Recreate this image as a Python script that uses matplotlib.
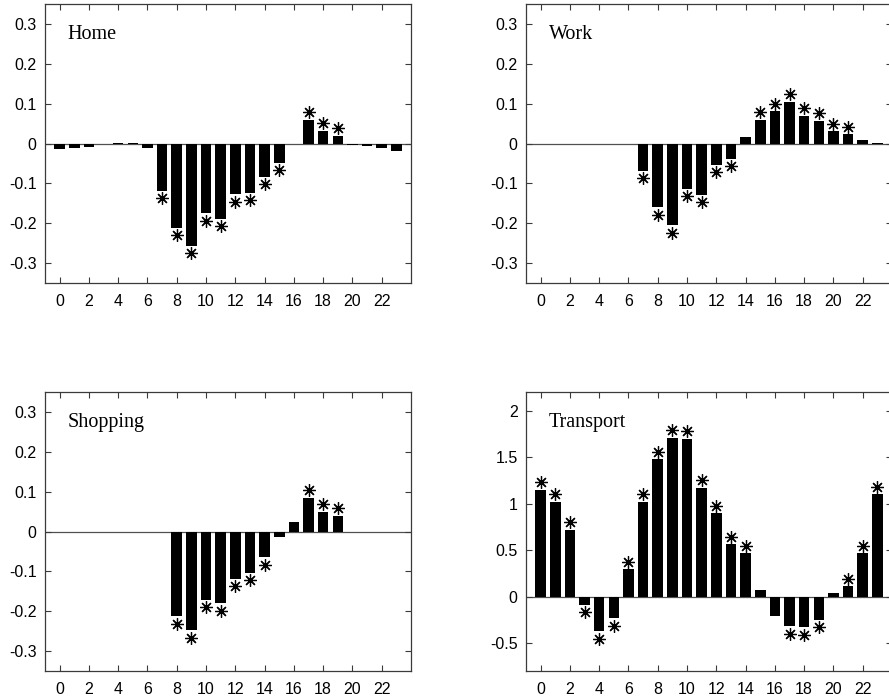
import numpy as np
import matplotlib
matplotlib.use('Agg')
import matplotlib.pyplot as plt
from matplotlib.ticker import FormatStrFormatter

# hourly coefficients, hour 0..23
hours = list(range(24))

home = [-0.015, -0.012, -0.008, 0.0, 0.001, 0.002, -0.011, -0.119,
        -0.211, -0.256, -0.175, -0.189, -0.127, -0.124, -0.083, -0.048,
        -0.002, 0.060, 0.032, 0.019, -0.005, -0.006, -0.011, -0.020]
work = [0.0, 0.0, 0.0, 0.0, 0.0, 0.0, 0.0, -0.068,
        -0.160, -0.205, -0.114, -0.129, -0.053, -0.038, 0.016, 0.060,
        0.081, 0.105, 0.070, 0.057, 0.031, 0.023, 0.009, 0.002]
shopping = [0.0, 0.0, 0.0, 0.0, 0.0, 0.0, 0.0, 0.0,
            -0.212, -0.248, -0.171, -0.180, -0.118, -0.104, -0.064, -0.014,
            0.023, 0.085, 0.049, 0.040, 0.0, 0.0, 0.0, 0.0]
transport = [1.151, 1.018, 0.719, -0.086, -0.371, -0.234, 0.295, 1.018,
             1.475, 1.709, 1.698, 1.173, 0.896, 0.561, 0.464, 0.068,
             -0.212, -0.317, -0.327, -0.248, 0.040, 0.112, 0.464, 1.101]

# hours marked as significant (asterisks)
home_sig = [7, 8, 9, 10, 11, 12, 13, 14, 15, 17, 18, 19]
work_sig = [7, 8, 9, 10, 11, 12, 13, 15, 16, 17, 18, 19, 20, 21]
shopping_sig = [8, 9, 10, 11, 12, 13, 14, 17, 18, 19]
transport_sig = [0, 1, 2, 3, 4, 5, 6, 7, 8, 9, 10, 11, 12, 13, 14,
                 17, 18, 19, 21, 22, 23]

panels = [
    ('Home', home, home_sig, (-0.35, 0.35), [-0.3, -0.2, -0.1, 0, 0.1, 0.2, 0.3]),
    ('Work', work, work_sig, (-0.35, 0.35), [-0.3, -0.2, -0.1, 0, 0.1, 0.2, 0.3]),
    ('Shopping', shopping, shopping_sig, (-0.35, 0.35), [-0.3, -0.2, -0.1, 0, 0.1, 0.2, 0.3]),
    ('Transport', transport, transport_sig, (-0.8, 2.2), [-0.5, 0, 0.5, 1, 1.5, 2]),
]

W, H = 889, 699
fig = plt.figure(figsize=(W / 100, H / 100), dpi=100)

# axes boxes in pixels: left, top, width, height
boxes = [(45, 4, 366, 279), (526, 4, 366, 279),
         (45, 392, 366, 279), (526, 392, 366, 279)]

edge = '#3a3a3a'

for (name, vals, sig, ylim, yt), (l, t, w, h) in zip(panels, boxes):
    ax = fig.add_axes([l / W, 1 - (t + h) / H, w / W, h / H])
    ax.axhline(0, color='#505050', lw=0.9, zorder=1)
    ax.bar(hours, vals, width=0.72, color='black', linewidth=0, zorder=2)

    off = 0.027 * (ylim[1] - ylim[0])
    sx = [hr for hr in sig]
    sy = [vals[hr] + (off if vals[hr] >= 0 else -off) for hr in sig]
    ax.plot(sx, sy, linestyle='none', marker=(8, 2, 0), markersize=9,
            markeredgewidth=0.9, color='black', zorder=4)

    ax.set_xlim(-1, 24)
    ax.set_ylim(*ylim)
    ax.set_xticks(range(0, 23, 2))
    ax.set_yticks(yt)
    ax.yaxis.set_major_formatter(FormatStrFormatter('%g'))
    ax.tick_params(direction='in', top=True, right=True, length=4,
                   width=0.8, color=edge, labelsize=11.5, pad=6)
    ax.tick_params(axis='x', pad=8)
    for lab in ax.get_xticklabels() + ax.get_yticklabels():
        lab.set_fontfamily('Liberation Sans')
    for sp in ax.spines.values():
        sp.set_color(edge)
        sp.set_linewidth(0.9)

    ax.text(0.062, 0.873, name, transform=ax.transAxes, fontsize=14.5,
            family='Liberation Serif', va='baseline', ha='left')

fig.savefig('out.png', dpi=100)
